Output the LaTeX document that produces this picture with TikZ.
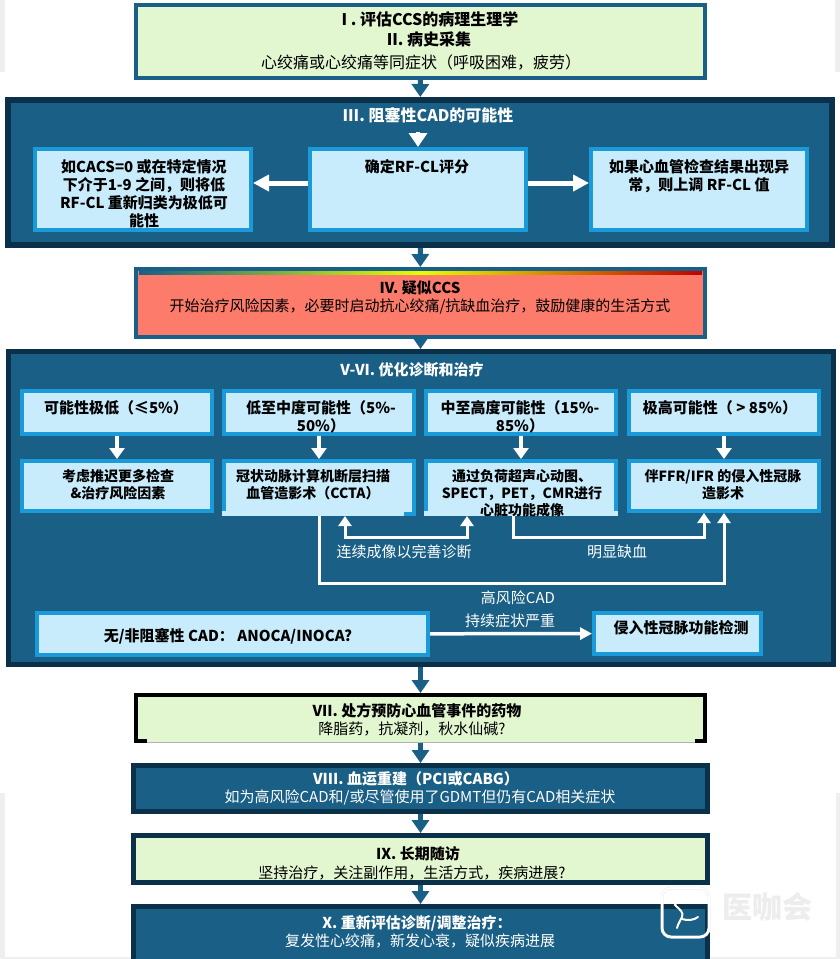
\documentclass[tikz,border=0pt]{standalone}
\usepackage{fontspec}
\setmainfont{Noto Sans CJK SC}
\usetikzlibrary{arrows.meta}

\definecolor{panelblue}{HTML}{1A5F85}
\definecolor{paneldark}{HTML}{0B3049}
\definecolor{boxedge}{HTML}{1A9AD8}
\definecolor{boxfill}{HTML}{C8ECFB}
\definecolor{stepgreen}{HTML}{E2F6D0}
\definecolor{stepcoral}{HTML}{FC7B6A}
\definecolor{pagegrey}{HTML}{EFEFEF}

\tikzset{
    stepbox/.style={draw=panelblue, fill=stepgreen, line width=4pt, inner sep=0pt},
    darkbox/.style={draw=paneldark, fill=panelblue, line width=5pt, inner sep=0pt},
    lightbox/.style={draw=boxedge, fill=boxfill, line width=4pt, inner sep=0pt},
    steptext/.style={align=center, font=\fontsize{15}{18}\selectfont, text=black},
    whitetext/.style={steptext, text=white},
    flowarrow/.style={-{Triangle[length=13pt, width=17pt]}, draw=panelblue, fill=panelblue, line width=5pt},
    sidearrow/.style={-{Triangle[length=16pt, width=16pt]}, draw=white, fill=white, line width=5pt},
    panelarrow/.style={-{Triangle[length=11pt, width=15pt]}, draw=white, fill=white, line width=3.5pt},
    looparrow/.style={>={Triangle[length=10pt, width=13pt]}, draw=white, fill=none, line width=3pt},
}

\begin{document}
\begin{tikzpicture}[x=1pt, y=-1pt]
    \useasboundingbox (0,0) rectangle (840,959);
    \fill[white] (0,0) rectangle (840,959);
    \fill[pagegrey] (0,0) rectangle (5,72);
    \fill[pagegrey] (835,0) rectangle (840,72);
    \fill[pagegrey] (0,793) rectangle (5,959);
    \fill[pagegrey] (836,793) rectangle (840,959);
    \fill[pagegrey] (0,957) rectangle (840,959);

    % top step
    \node[stepbox, minimum width=569pt, minimum height=73pt] (assess) at (420.5,41.5) {};
    \node[steptext, font=\fontsize{16}{18}\selectfont] at (430,19) {\bfseries I . 评估CCS的病理生理学};
    \node[steptext, font=\fontsize{16}{18}\selectfont] at (429,39) {\bfseries II. 病史采集};
    \node[steptext, font=\fontsize{16}{18}\selectfont] at (421,63) {心绞痛或心绞痛等同症状（呼吸困难，疲劳）};

    % pretest panel
    \node[darkbox, line width=6pt, minimum width=824pt, minimum height=145pt] (pretest) at (420,172.5) {};
    \node[whitetext, font=\fontsize{16}{18}\selectfont] at (428,115) {\bfseries III. 阻塞性CAD的可能性};
    \node[lightbox, minimum width=216pt, minimum height=81pt] (reclass) at (143,189.5) {};
    \node[lightbox, minimum width=216pt, minimum height=81pt] (score) at (418,189.5) {};
    \node[lightbox, minimum width=216pt, minimum height=81pt] (upscale) at (699,189.5) {};
    \node[steptext, anchor=north] at (144,156) {\bfseries 如CACS=0 或在特定情况\\ \bfseries 下介于1-9 之间，则将低\\ \bfseries RF-CL 重新归类为极低可\\ \bfseries 能性};
    \node[steptext, anchor=north] at (417,156) {\bfseries 确定RF-CL评分};
    \node[steptext, anchor=north] at (699,156) {\bfseries 如果心血管检查结果出现异\\ \bfseries 常，则上调 RF-CL 值};
    \coordinate (scoretop) at (418,132);
    \draw[panelarrow, -{Triangle[length=14pt, width=18pt]}] (scoretop) -- (score.north);
    \draw[sidearrow] (score.west |- 0,183) -- (reclass.east |- 0,183);
    \draw[sidearrow] (score.east |- 0,183) -- (upscale.west |- 0,183);

    % suspected step
    \node[stepbox, fill=stepcoral, minimum width=569pt, minimum height=68pt] (suspect) at (420.5,303) {};
    \shade[left color=panelblue, right color=yellow!90!green] (139,271) rectangle (420,274);
    \shade[left color=yellow!90!green, right color=red!75!black] (420,271) rectangle (702,274);
    \node[steptext] at (420,288) {\bfseries IV. 疑似CCS};
    \node[steptext] at (420,306) {开始治疗风险因素，必要时启动抗心绞痛/抗缺血治疗，鼓励健康的生活方式};

    % diagnosis panel
    \node[darkbox, minimum width=825pt, minimum height=313pt] (optimize) at (420.5,508) {};
    \node[whitetext] at (412,370) {\bfseries V-VI. 优化诊断和治疗};

    \node[lightbox, minimum width=190pt, minimum height=43pt] (verylow) at (117,412.5) {};
    \node[lightbox, minimum width=190pt, minimum height=43pt] (lowmid) at (319,412.5) {};
    \node[lightbox, minimum width=190pt, minimum height=43pt] (midhigh) at (521,412.5) {};
    \node[lightbox, minimum width=190pt, minimum height=43pt] (veryhigh) at (724,412.5) {};
    \node[steptext] at (116,408) {\bfseries 可能性极低（≤5\%）};
    \node[steptext] at (321,417) {\bfseries 低至中度可能性（5\%-\\ \bfseries 50\%）};
    \node[steptext] at (520,417) {\bfseries 中至高度可能性（15\%-\\ \bfseries 85\%）};
    \node[steptext] at (720,408) {\bfseries 极高可能性（ > 85\%）};

    \node[lightbox, minimum width=190pt, minimum height=50pt] (defer) at (117,486) {};
    \node[lightbox, minimum width=190pt, minimum height=53pt] (ccta) at (319,487.5) {};
    \node[lightbox, minimum width=190pt, minimum height=53pt] (stress) at (521,487.5) {};
    \node[lightbox, minimum width=190pt, minimum height=50pt] (invasive) at (724,486) {};
    % these two lose their lower edge
    \fill[boxfill] ([xshift=-97pt,yshift=5pt]ccta.south) rectangle ([xshift=85pt,yshift=0pt]ccta.south);
    \fill[boxfill] ([xshift=-97pt,yshift=5pt]stress.south) rectangle ([xshift=97pt,yshift=0pt]stress.south);
    \node[steptext, font=\fontsize{14}{17}\selectfont] at (118,485) {\bfseries 考虑推迟更多检查\\ \bfseries \&治疗风险因素};
    \node[steptext, font=\fontsize{14}{17}\selectfont] at (313,485) {\bfseries 冠状动脉计算机断层扫描\\ \bfseries 血管造影术（CCTA）};
    \node[steptext, font=\fontsize{14}{17}\selectfont] at (522,493) {\bfseries 通过负荷超声心动图、\\ \bfseries SPECT，PET，CMR进行\\ \bfseries 心脏功能成像};
    \node[steptext, font=\fontsize{14}{17}\selectfont] at (723,485) {\bfseries 伴FFR/IFR 的侵入性冠脉\\ \bfseries 造影术};

    \draw[panelarrow] (verylow) -- (defer);
    \draw[panelarrow] (lowmid) -- (ccta);
    \draw[panelarrow] (midhigh) -- (stress);
    \draw[panelarrow] (veryhigh) -- (invasive);

    \draw[looparrow, <->] ([xshift=26pt]ccta.south) -- ++(0,21) -| ([xshift=-54pt]stress.south);
    \draw[looparrow, ->] ([xshift=-8pt]stress.south) -- ++(0,21) -| ([xshift=-20pt]invasive.south);
    \draw[looparrow, ->] (ccta.south) -- ++(0,67) -| (invasive.south);

    \node[whitetext] at (404,552) {连续成像以完善诊断};
    \node[whitetext] at (617,552) {明显缺血};
    \node[whitetext] at (518,598) {高风险CAD};
    \node[whitetext] at (510,621) {持续症状严重};

    \node[lightbox, minimum width=391pt, minimum height=42pt] (nonobs) at (232.5,634) {};
    \node[lightbox, minimum width=167pt, minimum height=41pt] (functest) at (677.5,633.5) {};
    \node[steptext] at (228,636) {\bfseries 无/非阻塞性 CAD： ANOCA/INOCA?};
    \node[steptext] at (681,628) {\bfseries 侵入性冠脉功能检测};
    \draw[panelarrow, -{Triangle[length=12pt, width=12pt]}] (nonobs) -- (functest);

    % lower steps
    \node[stepbox, draw=black, minimum width=569pt, minimum height=46pt] (prevent) at (420.5,718) {};
    \fill[stepgreen] (147,739) rectangle (695,743);
    \draw[gray!60, line width=.7pt] (147,742.6) -- (695,742.6);
    \node[steptext] at (417,711) {\bfseries VII. 处方预防心血管事件的药物};
    \node[steptext] at (412,729) {降脂药，抗凝剂，秋水仙碱?};

    \node[darkbox, minimum width=574pt, minimum height=46pt] (revasc) at (420.5,788.5) {};
    \node[whitetext] at (416,779) {\bfseries VIII. 血运重建（PCI或CABG）};
    \node[whitetext] at (420,797) {如为高风险CAD和/或尽管使用了GDMT但仍有CAD相关症状};

    \node[stepbox, draw=paneldark, line width=5pt, minimum width=574pt, minimum height=47pt] (followup) at (420.5,859) {};
    \node[steptext] at (418,854) {\bfseries IX. 长期随访};
    \node[steptext] at (412,873) {坚持治疗，关注副作用，生活方式，疾病进展?};

    \node[darkbox, minimum width=574pt, minimum height=60pt] (reassess) at (420.5,936.5) {};
    \node[whitetext] at (417,923) {\bfseries X. 重新评估诊断/调整治疗：};
    \node[whitetext] at (420,941) {复发性心绞痛，新发心衰，疑似疾病进展};

    % arrows between the steps
    \draw[flowarrow] (assess) -- (pretest);
    \draw[flowarrow] (pretest) -- (suspect);
    \draw[flowarrow] (suspect) -- (optimize);
    \draw[flowarrow] (optimize) -- (prevent);
    \draw[flowarrow] (prevent) -- (revasc);
    \draw[flowarrow] (revasc) -- (followup);
    \draw[flowarrow] (followup) -- (reassess);

    % site mark, lower right
    \draw[gray!12, line width=3pt, rounded corners=9pt] (662,888) rectangle (709,937);
    \draw[white, line width=1.6pt, rounded corners=9pt] (662,888) rectangle (709,937);
    \draw[white, line width=2pt, line cap=round] (693,892) .. controls (685,893) and (678,898) .. (675,905) .. controls (680,910) and (684,912) .. (682,917) .. controls (680,921) and (678,924) .. (677,928);
    \draw[white, line width=2pt, line cap=round] (682,919) .. controls (688,921) and (694,920) .. (698,917);
    \node[text=gray!14, font=\fontsize{30}{32}\bfseries\selectfont] (sitemark) at (767,907) {医咖会};
\end{tikzpicture}
\end{document}
